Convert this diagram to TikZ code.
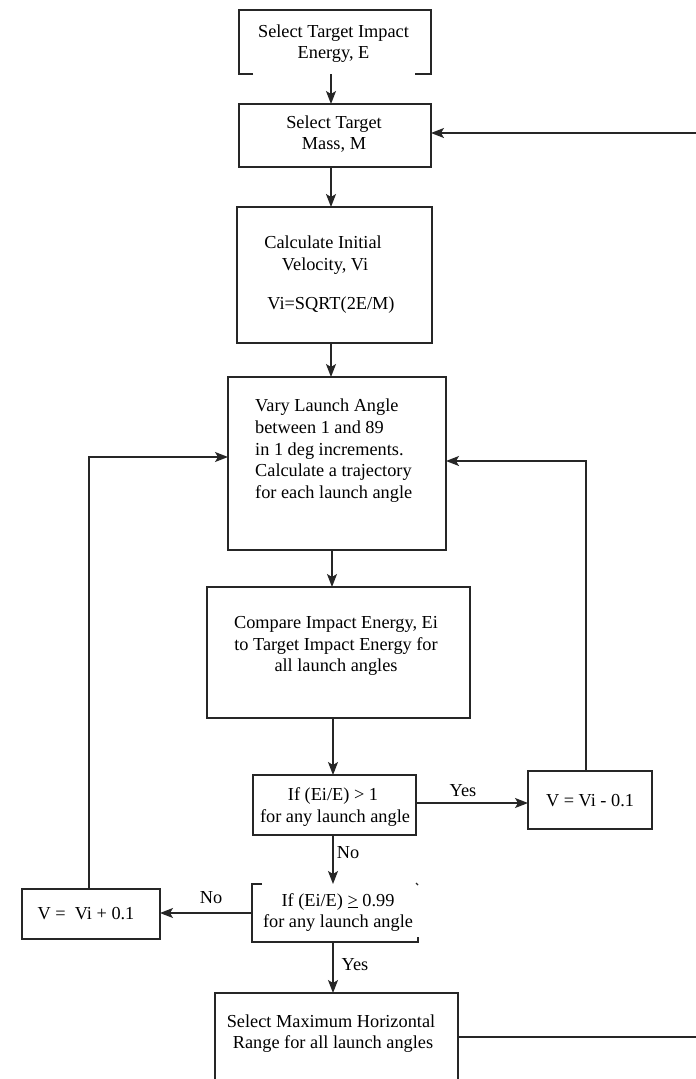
\documentclass[tikz,border=0pt]{standalone}
\usepackage{fontspec}
\setmainfont{Liberation Serif}
\usetikzlibrary{arrows.meta}
\begin{document}
\begin{tikzpicture}[x=1pt,y=-1pt,
  ln/.style={line width=1.3pt, draw=black!85},
  box/.style={ln, draw, inner sep=0pt, outer sep=0pt},
  ghost/.style={inner sep=0pt, outer sep=0pt},
  txt/.style={font=\fontsize{18.3}{21.7}\selectfont, inner sep=0pt, anchor=base, text=black},
  arr/.style={ln, -{Stealth[length=13pt,width=10pt,inset=3pt]}}]
\clip (0,0) rectangle (696,1079);
\fill[white] (0,0) rectangle (696,1079);

% boxes
\node[ghost, minimum width=192pt, minimum height=64pt] (b1) at (335,42) {};
\draw[ln] (253,74) -- (239,74) -- (239,10) -- (431,10) -- (431,74) -- (415,74);
\node[box, minimum width=192pt, minimum height=63pt] (b2) at (335,135.5) {};
\node[box, minimum width=195pt, minimum height=136pt] (b3) at (334.5,275) {};
\node[box, minimum width=218pt, minimum height=173pt] (b4) at (337,463.5) {};
\node[box, minimum width=263pt, minimum height=131pt] (b5) at (338.5,652.5) {};
\node[box, minimum width=163pt, minimum height=60pt] (d1) at (334.5,805) {};
\node[box, minimum width=124pt, minimum height=58pt] (vm) at (590,800) {};
\node[ghost, minimum width=166pt, minimum height=58pt] (d2) at (335,913) {};
\draw[ln] (262,884) -- (252,884) -- (252,942) -- (418,942) -- (418,937);
\draw[ln] (416,883) -- (418,885);
\node[box, minimum width=138pt, minimum height=50pt] (vp) at (91,914) {};
\node[box, minimum width=243pt, minimum height=114pt] (b7) at (336.5,1050) {};

% texts
\node[txt] (t1a) at (333.5,37) {Select Target Impact};
\node[txt] (t1b) at (333.5,58) {Energy, E};
\node[txt] (t2a) at (334,128) {Select Target};
\node[txt] (t2b) at (334,149) {Mass, M};
\node[txt] (t3a) at (323,248) {Calculate Initial};
\node[txt] (t3b) at (325,270) {Velocity, Vi};
\node[txt] (t3c) at (331,309) {Vi=SQRT(2E/M)};
\node[txt, anchor=base west] (t4a) at (255,411) {Vary Launch Angle};
\node[txt, anchor=base west] (t4b) at (255,433) {between 1 and 89};
\node[txt, anchor=base west] (t4c) at (255,455) {in 1 deg increments.};
\node[txt, anchor=base west] (t4d) at (255,476) {Calculate a trajectory};
\node[txt, anchor=base west] (t4e) at (255,498) {for each launch angle};
\node[txt] (t5a) at (336,628) {Compare Impact Energy, Ei};
\node[txt] (t5b) at (336,650) {to Target Impact Energy for};
\node[txt] (t5c) at (336,671) {all launch angles};
\node[txt] (t6a) at (333,800) {If (Ei/E) > 1};
\node[txt] (t6b) at (335,822) {for any launch angle};
\node[txt] (tvm) at (590,806) {V = Vi - 0.1};
\node[txt] (t8a) at (338,906) {If (Ei/E) \underline{>} 0.99};
\node[txt] (t8b) at (338,927) {for any launch angle};
\node[txt] (tvp) at (86,919) {V =\ \ Vi + 0.1};
\node[txt] (t7a) at (331,1027) {Select Maximum Horizontal};
\node[txt] (t7b) at (333,1048) {Range for all launch angles};

% labels
\node[txt] (lyes1) at (463,796) {Yes};
\node[txt] (lno1) at (348,858) {No};
\node[txt] (lno2) at (211,903) {No};
\node[txt] (lyes2) at (355,970) {Yes};

% connectors
\coordinate (a1) at (331,0);
\coordinate (a2) at (331,0);
\coordinate (a4) at (332,0);
\coordinate (a5) at (333,0);
\draw[arr] (b1.south -| a1) -- (b2.north -| a1);
\draw[arr] (b2.south -| a2) -- (b3.north -| a2);
\draw[arr] (b3.south -| a2) -- (b4.north -| a2);
\draw[arr] (b4.south -| a4) -- (b5.north -| a4);
\draw[arr] (b5.south -| a5) -- (d1.north -| a5);
\draw[arr] (d1.south -| a5) -- (d2.north -| a5);
\draw[arr] (d2.south -| a5) -- (b7.north -| a5);

\coordinate (yy) at (0,803);
\draw[arr] (d1.east |- yy) -- (vm.west |- yy);
\coordinate (ny) at (0,913);
\draw[arr] (d2.west |- ny) -- (vp.east |- ny);

\coordinate (lx) at (89,457);
\draw[arr] (vp.north -| lx) -- (lx) -- (b4.west |- lx);
\coordinate (rx) at (586,461);
\draw[arr] (vm.north -| rx) -- (rx) -- (b4.east |- rx);

\coordinate (rtop) at (696,133);
\coordinate (rbot) at (696,1037);
\draw[arr] (rtop) -- (b2.east |- rtop);
\draw[ln] (b7.east |- rbot) -- (rbot);
\end{tikzpicture}
\end{document}
